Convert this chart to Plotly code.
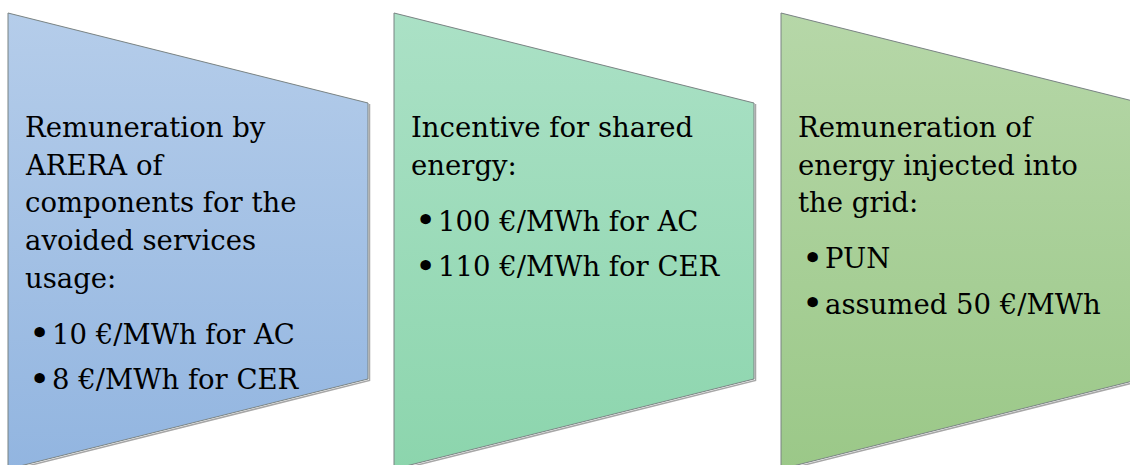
import plotly.graph_objects as go

# Three stacked-arrow style panels, each with a heading and a bullet list
headings = [
    ["Remuneration by", "ARERA of", "components for the", "avoided services", "usage:"],
    ["Incentive for shared", "energy:"],
    ["Remuneration of", "energy injected into", "the grid:"],
]
bullets = [
    ["10 €/MWh for AC", "8 €/MWh for CER"],
    ["100 €/MWh for AC", "110 €/MWh for CER"],
    ["PUN", "assumed 50 €/MWh"],
]
top_colors = ["#b5cdea", "#abe1c6", "#b6d7a8"]
bottom_colors = ["#92b5e0", "#8cd5ad", "#9bc888"]

# Panel geometry (pixels, y grows downward)
panel_left = [8, 394, 781]
panel_width = 360
y_top_left, y_top_right = 13, 103
y_bot_right, y_bot_left = 379, 469

W, H = 1130, 465
FONT = "DejaVu Serif"
FSIZE = 27.5
first_baseline = 135
line_pitch = 37.7
bullet_gap = 56
bullet_pitch = 45.5
text_inset = 15
bullet_inset = 19
bullet_text_inset = 42

fig = go.Figure()

for i, x0 in enumerate(panel_left):
    x1 = x0 + panel_width
    xs = [x0, x1, x1, x0, x0]
    ys = [y_top_left, y_top_right, y_bot_right, y_bot_left, y_top_left]
    # soft shadow along the lower and right edges
    fig.add_trace(go.Scatter(
        x=[x1 + 1.5, x1 + 1.5, x0 + 1.5], y=[y_top_right + 1, y_bot_right + 1.5, y_bot_left + 1.5],
        mode="lines", line=dict(color="rgba(60,60,60,0.45)", width=1.5),
        hoverinfo="skip", showlegend=False))
    fig.add_trace(go.Scatter(
        x=xs, y=ys, mode="lines", fill="toself",
        fillgradient=dict(type="vertical", start=y_top_left, stop=y_bot_left,
                          colorscale=[[0, top_colors[i]], [1, bottom_colors[i]]]),
        line=dict(color="rgb(120,130,130)", width=1),
        hoverinfo="skip", showlegend=False))

    y = first_baseline
    for line in headings[i]:
        fig.add_annotation(x=x0 + text_inset, y=y, text=line, showarrow=False,
                           xanchor="left", yanchor="middle", yshift=8,
                           font=dict(family=FONT, size=FSIZE, color="#000000"))
        y += line_pitch
    y = y - line_pitch + bullet_gap
    for b in bullets[i]:
        fig.add_annotation(x=x0 + bullet_inset, y=y, text="•", showarrow=False,
                           xanchor="left", yanchor="middle", yshift=9,
                           font=dict(family=FONT, size=36, color="#000000"))
        fig.add_annotation(x=x0 + bullet_text_inset, y=y, text=b, showarrow=False,
                           xanchor="left", yanchor="middle", yshift=8,
                           font=dict(family=FONT, size=FSIZE, color="#000000"))
        y += bullet_pitch

fig.update_layout(
    width=W, height=H, margin=dict(l=0, r=0, t=0, b=0),
    paper_bgcolor="white", plot_bgcolor="white", showlegend=False,
    xaxis=dict(range=[0, W], visible=False, fixedrange=True),
    yaxis=dict(range=[H, 0], visible=False, fixedrange=True),
)
fig.write_html("out.html", config={"displayModeBar": False})
